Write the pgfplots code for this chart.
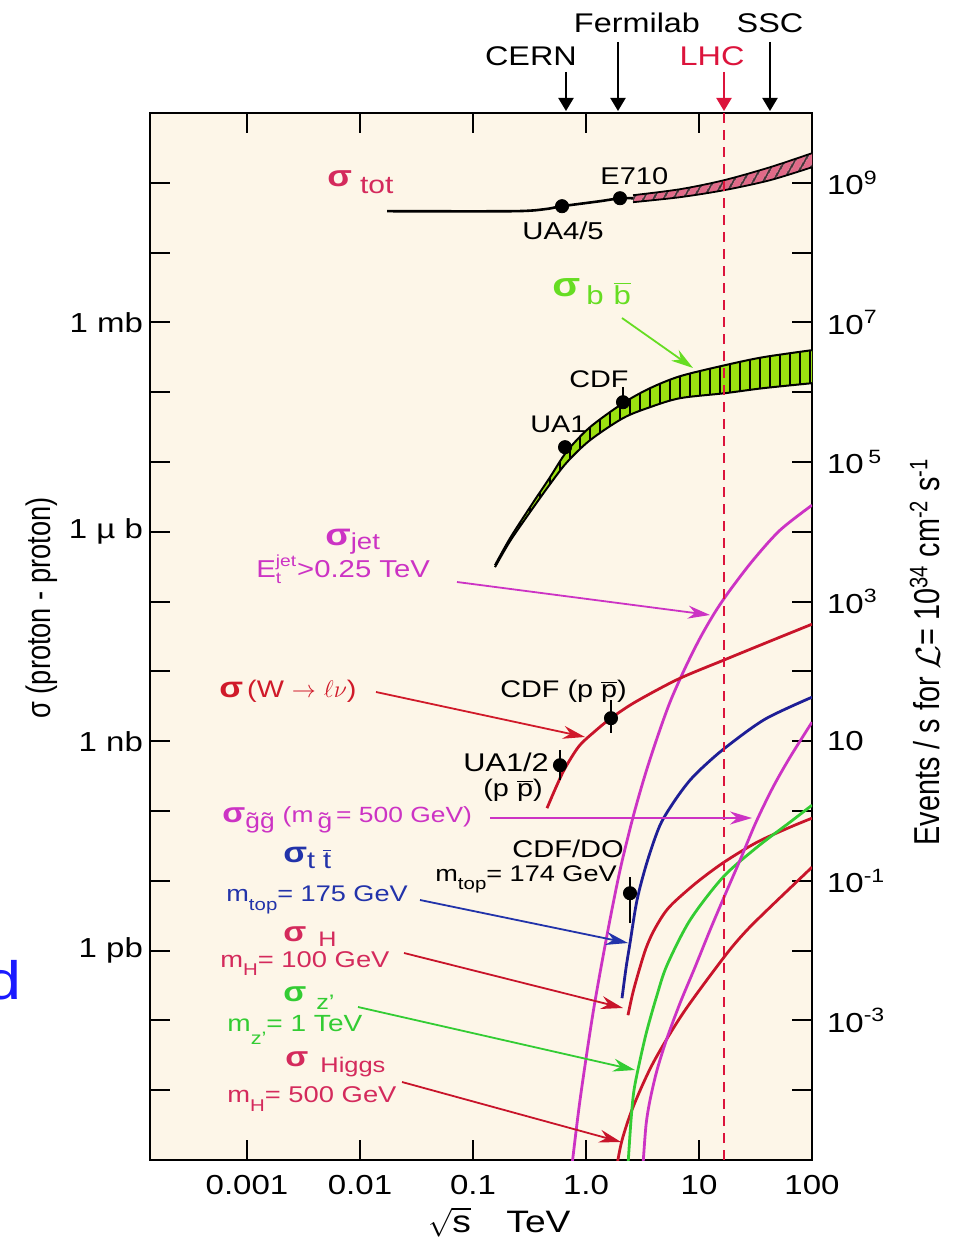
\documentclass[border=0pt]{standalone}
\usepackage{graphicx}
\usepackage{pgfplots}
\pgfplotsset{compat=1.18}
\usepgfplotslibrary{fillbetween}
\usetikzlibrary{arrows.meta,patterns.meta}
\usepackage{fontspec}
\setmainfont{Liberation Sans}[FakeStretch=1.2]
\newfontfamily\narrow[FakeStretch=0.8]{Liberation Sans}
\newcommand\fs[1]{\fontsize{#1}{#1}\selectfont}
\newcommand\sig[1][13]{{\bfseries\fs{#1}σ}}
\definecolor{cream}{HTML}{FDF6E8}
\definecolor{labred}{HTML}{D42A5C}
\definecolor{wred}{HTML}{D01A2A}
\definecolor{cred}{HTML}{C8142A}
\definecolor{lhcred}{HTML}{DC143C}
\definecolor{mag}{HTML}{CC33C4}
\definecolor{bgreen}{HTML}{66DD22}
\definecolor{zgreen}{HTML}{33CC33}
\definecolor{bandgreen}{HTML}{9BE010}
\definecolor{bandpink}{HTML}{E06A88}
\definecolor{tblue}{HTML}{1E1E96}
\definecolor{lblue}{HTML}{2233AA}
\definecolor{dblue}{HTML}{1A1AFF}
\begin{document}
\begin{tikzpicture}[x=1pt,y=1pt,
  px/.style={shift={(-75pt,580pt)},x=0.5pt,y=-0.5pt},
  ar/.style={line width=0.9pt,-{Stealth[length=11pt,width=6.5pt]}},
  tarr/.style={line width=1pt,-{Triangle[length=6.5pt,width=7.5pt]}},
  t/.style={anchor=base west, inner sep=0pt},
]
\begin{axis}[
  at={(0,0)}, anchor=south west, scale only axis,
  width=331pt, height=523.5pt,
  xmode=log, ymode=log,
  xmin=1.385e-4, xmax=100, ymin=1e-6, ymax=1e9,
  axis background/.style={fill=cream},
  axis line style={line width=1.1pt},
  xminorticks=false, yminorticks=false,
  tick align=inside, major tick length=10pt,
  tick style={black, line width=1pt},
  xtick={0.001,0.01,0.1,1,10,100},
  xticklabels={0.001,0.01,0.1,1.0,10,100},
  ytick={1e-5,1e-4,1e-3,1e-2,1e-1,1,10,100,1e3,1e4,1e5,1e6,1e7,1e8},
  yticklabels={,,1 pb,,,1 nb,,,1 µ b,,,1 mb,,},
  tick label style={font=\fs{13.75}},
  xticklabel style={yshift=-4pt},
  clip=true,
]
% ---- sigma_tot ----
\addplot[black, line width=1.3pt, smooth] coordinates {(0.01734,3.92e7) (0.226,3.92e7) (0.4335,4.19e7) (0.6133,4.62e7) (1.33,5.45e7) (2.0,6.01e7) (2.606,6.0e7)};
\addplot[draw=none, name path=tu, smooth] coordinates {(2.606,6.64e7) (6.79,8.09e7) (16.64,1.089e8) (42.5,1.671e8) (100,2.654e8)};
\addplot[draw=none, name path=tl, smooth] coordinates {(2.606,5.27e7) (6.79,6.22e7) (16.64,7.83e7) (42.5,1.089e8) (100,1.671e8)};
\addplot[fill=bandpink, draw=none] fill between[of=tu and tl];
\addplot[draw=none, pattern={Lines[angle=60,distance=4pt,line width=1pt]}, pattern color=black!80] fill between[of=tu and tl];
\addplot[black, line width=0.9pt, smooth] coordinates {(2.606,6.64e7) (6.79,8.09e7) (16.64,1.089e8) (42.5,1.671e8) (100,2.654e8)};
\addplot[black, line width=0.9pt, smooth] coordinates {(2.606,5.27e7) (6.79,6.22e7) (16.64,7.83e7) (42.5,1.089e8) (100,1.671e8)};
\addplot[only marks, mark=*, mark size=3.3pt, black] coordinates {(0.6133,4.62e7) (2.0,6.01e7)};
% ---- sigma_bb ----
\addplot[draw=none, name path=bu, smooth] coordinates {(0.1565,332) (0.2126,809) (0.3194,2249) (0.4801,6058) (0.6788,14290) (1.085,31550) (2.125,69560) (3.685,1.141e5) (6.79,1.694e5) (16.99,2.437e5) (36.85,3.17e5) (100,4.0e5)};
\addplot[draw=none, name path=bl, smooth] coordinates {(0.1565,311) (0.2126,733) (0.3194,1910) (0.4801,4808) (0.6788,9931) (1.085,20510) (2.125,42440) (3.685,60980) (6.79,82050) (16.99,96800) (36.85,1.141e5) (100,1.346e5)};
\addplot[fill=bandgreen, draw=none] fill between[of=bu and bl];
\addplot[draw=none, pattern={Lines[angle=90,distance=5pt,line width=1pt]}, pattern color=black] fill between[of=bu and bl];
\addplot[black, line width=1pt, smooth] coordinates {(0.1565,332) (0.2126,809) (0.3194,2249) (0.4801,6058) (0.6788,14290) (1.085,31550) (2.125,69560) (3.685,1.141e5) (6.79,1.694e5) (16.99,2.437e5) (36.85,3.17e5) (100,4.0e5)};
\addplot[black, line width=1pt, smooth] coordinates {(0.1565,311) (0.2126,733) (0.3194,1910) (0.4801,4808) (0.6788,9931) (1.085,20510) (2.125,42440) (3.685,60980) (6.79,82050) (16.99,96800) (36.85,1.141e5) (100,1.346e5)};
\addplot[black, line width=0.8pt] coordinates {(2.125,71900) (2.125,1.18e5)};
\addplot[only marks, mark=*, mark size=3.3pt, black] coordinates {(0.6521,16300) (2.125,71900)};
% ---- sigma_jet ----
\addplot[mag, line width=1.4pt, smooth] coordinates {(0.7519,8.43e-7) (0.8849,7.19e-6) (1.153,1.267e-4) (1.534,1.664e-3) (2.0,1.418e-2) (2.606,8.15e-2) (3.327,0.326) (4.249,1.104) (5.538,3.63) (7.518,11.1) (10.2,29.9) (13.86,70.5) (18.8,145.6) (30.06,391.7) (52.1,1054) (100,2405)};
% ---- sigma W -> l nu ----
\addplot[cred, line width=1.4pt, smooth] coordinates {(0.4517,0.1097) (0.5428,0.2193) (0.6521,0.4102) (0.8673,0.848) (1.201,1.391) (1.664,2.136) (2.714,3.62) (6.519,7.73) (17.33,14.95) (42.5,27.08) (100,47.46)};
\addplot[black, line width=0.8pt] coordinates {(1.664,3.867) (1.664,1.302)};
\addplot[black, line width=0.8pt] coordinates {(0.5886,0.743) (0.5886,0.276)};
\addplot[only marks, mark=*, mark size=3.3pt, black] coordinates {(0.5886,0.4529) (1.664,2.136)};
% ---- sigma ttbar ----
\addplot[tblue, line width=1.4pt, smooth] coordinates {(2.083,2.08e-4) (2.259,5.6e-4) (2.451,1.277e-3) (2.827,5.27e-3) (3.466,1.846e-2) (4.517,6.26e-2) (6.134,0.1428) (8.325,0.2762) (11.30,0.453) (17.33,0.8205) (38.38,2.066) (100,4.27)};
\addplot[black, line width=0.8pt] coordinates {(2.451,1.126e-2) (2.451,2.47e-3)};
\addplot[only marks, mark=*, mark size=3.3pt, black] coordinates {(2.451,6.64e-3)};
% ---- sigma H (100 GeV) ----
\addplot[cred, line width=1.4pt, smooth] coordinates {(2.353,1.187e-4) (2.606,2.535e-4) (3.005,5.78e-4) (3.396,1.082e-3) (3.917,1.835e-3) (4.801,3.214e-3) (5.888,4.775e-3) (9.601,9.55e-3) (16.64,1.846e-2) (32.61,3.57e-2) (63.9,5.86e-2) (100,7.89e-2)};
% ---- sigma Higgs (500 GeV) ----
\addplot[cred, line width=1.4pt, smooth] coordinates {(1.881,8.43e-7) (2.083,1.92e-6) (2.606,5.71e-6) (3.917,2.44e-5) (7.218,1.267e-4) (16.64,8.04e-4) (25.54,1.835e-3) (39.98,3.79e-3) (100,1.566e-2)};
% ---- sigma Z' ----
\addplot[zgreen, line width=1.4pt, smooth] coordinates {(2.353,8.43e-7) (2.502,3.72e-6) (2.659,1.0e-5) (3.005,2.69e-5) (3.466,7.24e-5) (4.249,2.30e-4) (5.21,6.18e-4) (8.325,2.73e-3) (16.31,1.126e-2) (32.61,3.03e-2) (63.9,6.92e-2) (100,0.1211)};
% ---- sigma gluino ----
\addplot[mag, line width=1.4pt, smooth] coordinates {(3.194,8.43e-7) (3.396,3.15e-6) (3.685,7.19e-6) (4.249,1.935e-5) (5.21,5.56e-5) (6.79,1.763e-4) (9.218,5.78e-4) (12.51,1.96e-3) (16.64,5.82e-3) (23.06,1.973e-2) (31.94,6.92e-2) (45.17,0.2193) (63.9,0.59) (100,1.872)};
% ---- LHC line ----
\draw[lhcred, line width=1pt, dash pattern=on 5pt off 3.5pt] (axis cs:16.64,1e-6) -- (axis cs:16.64,1e9);
\end{axis}
% right axis: events / s
\begin{axis}[
  at={(0,0)}, anchor=south west, scale only axis,
  width=331pt, height=523.5pt,
  ymode=log, ymin=1e-5, ymax=1e10, xmin=0, xmax=1,
  hide x axis, axis y line*=right,
  axis line style={draw=none},
  yminorticks=false, major tick length=0pt,
  ytick={1e-3,1e-1,10,1e3,1e5,1e7,1e9},
  yticklabels={10\textsuperscript{-3},10\textsuperscript{-1},10,10\textsuperscript{3},10\,\textsuperscript{5},10\textsuperscript{7},10\textsuperscript{9}},
  yticklabel style={font=\fs{13.75}, xshift=4pt},
]
\addplot[draw=none] coordinates {(0,1) (1,1)};
\end{axis}
\begin{scope}[px]
% top labels
\node[font=\fs{13.5}] at (531,56) {CERN};
\node[font=\fs{13.5}] at (637,23) {Fermilab};
\node[font=\fs{13.5}, text=lhcred] at (712,56) {LHC};
\node[font=\fs{13.5}] at (770,23) {SSC};
\draw[tarr] (566,72) -- (566,111);
\draw[tarr] (618,42) -- (618,111);
\draw[tarr, lhcred] (724,72) -- (724,111);
\draw[tarr] (770,42) -- (770,111);
% sigma tot
\node[t, text=labred] at (327,187) {\sig[15]\hspace{4pt}\raisebox{-3.5pt}{\fs{12.5}tot}};
\node[t, font=\fs{12.1}] at (600,185) {E710};
\node[t, font=\fs{12.2}] at (522,240) {UA4/5};
% sigma bb
\node[t, text=bgreen] at (552,297) {\sig[17]\hspace{3pt}\raisebox{-4pt}{\fs{13}b\hspace{5pt}$\overline{\mbox{b}}$}};
\draw[ar, bgreen] (622,318) -- (693,368);
\node[t, font=\fs{12}] at (569,388) {CDF};
\node[t, font=\fs{12}] at (530,433) {UA1};
% sigma jet
\node[t, text=mag] at (325,546) {\sig[15.5]\raisebox{-2pt}{\fs{11.5}jet}};
\node[t, text=mag, font=\fs{12.2}] at (256,578) {E$^{\mbox{\fs{8}jet}}_{\mbox{\fs{8}t}}$>0.25 TeV};
\draw[ar, mag] (457,582) -- (710,615);
% sigma W
\node[t, text=wred, font=\fs{12}] at (219,698) {\sig[14.5]\,(W $\rightarrow$ $\ell\nu$)};
\draw[ar, wred] (376,692) -- (585,737);
\node[t, font=\fs{12}] at (500,698) {CDF (p $\overline{\mbox{p}}$)};
\node[t, font=\fs{12.8}] at (463,772) {UA1/2};
\node[t, font=\fs{12}] at (483,797) {(p $\overline{\mbox{p}}$)};
% gluino
\node[t, text=mag, font=\fs{11}] at (222,823) {\sig[14]\raisebox{-3pt}{\fs{11}g̃g̃}\hspace{4pt}(m\hspace{2pt}\raisebox{-3pt}{\fs{11}g̃}\hspace{2pt}= 500 GeV)};
\draw[ar, mag] (490,818) -- (752,818);
% ttbar
\node[t, text=lblue] at (283,863) {\sig[14.5]\raisebox{-3pt}{\fs{12}t $\overline{\mbox{t}}$}};
\node[t, text=lblue, font=\fs{11.3}] at (226,902) {m\raisebox{-4.5pt}{\fs{8.5}top}= 175 GeV};
\draw[ar, lblue] (420,900) -- (628,943);
\node[t, font=\fs{12.1}] at (512,858) {CDF/DO};
\node[t, font=\fs{11.3}] at (435,882) {m\raisebox{-4pt}{\fs{8.5}top}= 174 GeV};
% sigma H
\node[t, text=labred] at (283,942) {\sig[14]\hspace{6pt}\raisebox{-2pt}{\fs{10.5}H}};
\node[t, text=labred, font=\fs{11.4}] at (220,968) {m\raisebox{-4pt}{\fs{8.5}H}= 100 GeV};
\draw[ar, cred] (404,953) -- (623,1008);
% sigma Z'
\node[t, text=zgreen] at (283,1002) {\sig[14]\hspace{5pt}\raisebox{-4pt}{\fs{10.5}z'}};
\node[t, text=zgreen, font=\fs{11.7}] at (227,1032) {m\raisebox{-6pt}{\fs{9}z'}= 1 TeV};
\draw[ar, zgreen] (358,1007) -- (635,1070);
% sigma Higgs
\node[t, text=labred] at (285,1066) {\sig[14]\hspace{6pt}\raisebox{-3pt}{\fs{10.6}Higgs}};
\node[t, text=labred, font=\fs{11.4}] at (227,1102) {m\raisebox{-5pt}{\fs{8.5}H}= 500 GeV};
\draw[ar, cred] (402,1082) -- (621,1142);
% axis titles
\node[rotate=90, font=\narrow\fs{17}] at (42,608) {σ (proton - proton)};
\node[rotate=90, font=\narrow\fs{18}] at (925,652) {Events / s for $\mathcal{L}$= 10\textsuperscript{34} cm\textsuperscript{-2} s\textsuperscript{-1}};
\node[anchor=base west, inner sep=0pt, font=\fs{15.5}] at (428,1232) {$\sqrt{\mbox{s}}$};
\node[anchor=base west, inner sep=0pt, font=\fs{15.5}] at (506,1232) {TeV};
% stray letter at left edge (cut off in the reference as well)
\node[anchor=base east, inner sep=0pt, text=dblue, font=\fs{27}] at (22,1000) {d};
\end{scope}
\pgfresetboundingbox
\path[use as bounding box] (-75,-39) rectangle (405,580);
\end{tikzpicture}
\end{document}
